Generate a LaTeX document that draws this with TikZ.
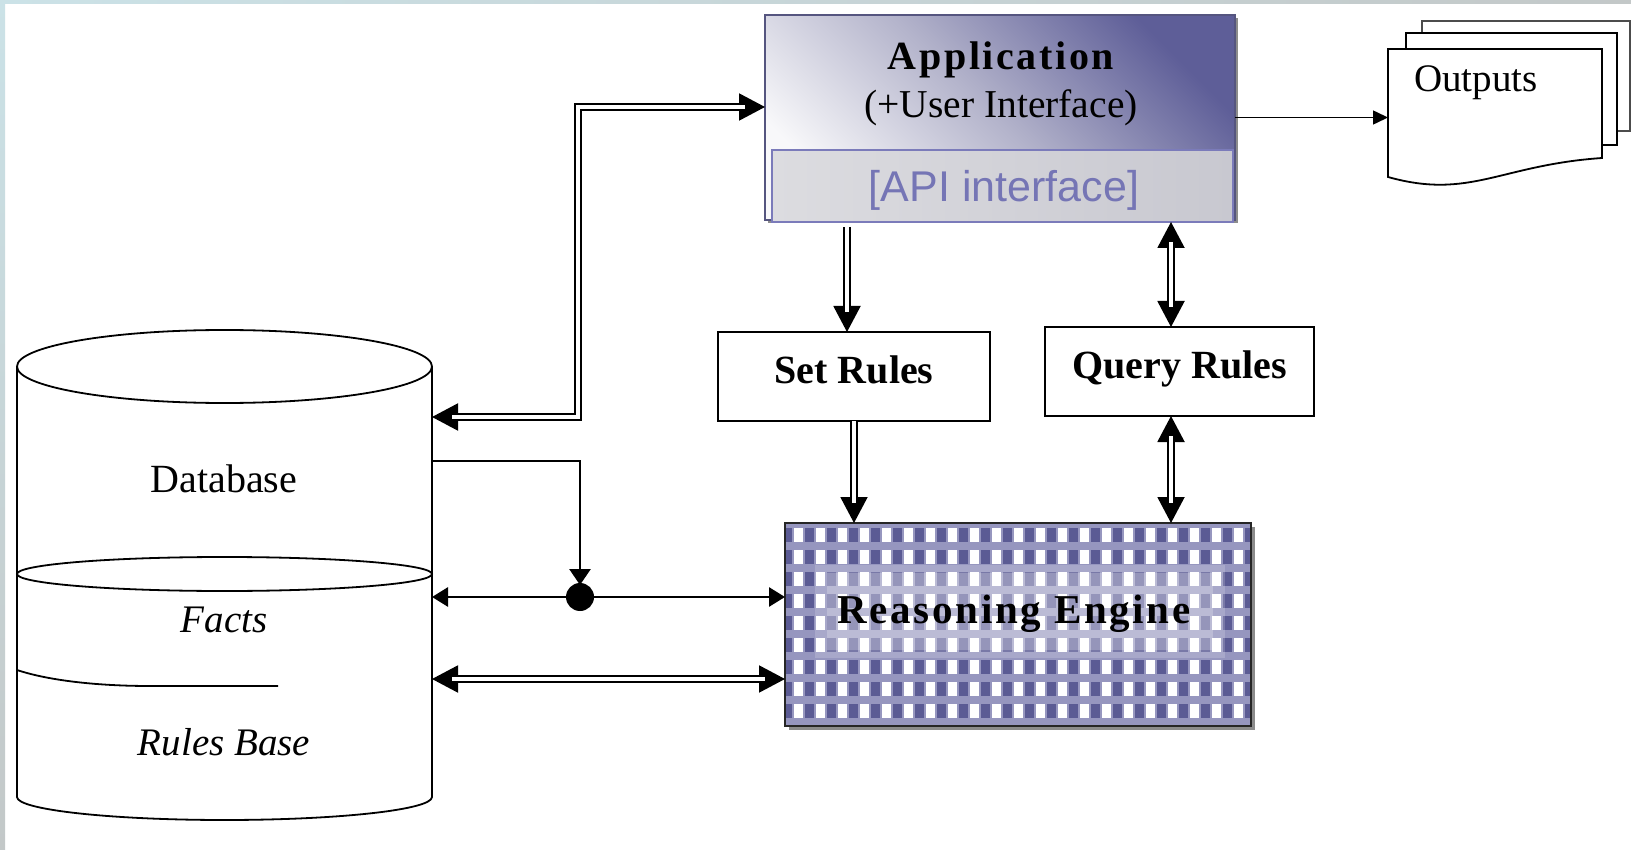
\documentclass[tikz,border=0pt]{standalone}
\usepackage{fontspec}
\setmainfont{Liberation Serif}
\newfontfamily\apifont{Liberation Sans}
\newfontfamily\trackedserif[LetterSpace=6.5]{Liberation Serif}
\usetikzlibrary{arrows.meta,calc}

\definecolor{frameblue}{HTML}{CBE2E7}
\definecolor{framegray}{HTML}{C3C8C8}
\definecolor{apppurple}{HTML}{5E5E98}
\definecolor{appmid}{HTML}{B2B2CA}
\definecolor{appwhite}{HTML}{F8F8FA}
\definecolor{appedge}{HTML}{55557F}
\definecolor{apifillL}{HTML}{DCDCE0}
\definecolor{apifillR}{HTML}{C8C8D0}
\definecolor{apiedge}{HTML}{7B7BBA}
\definecolor{apitext}{HTML}{7575B5}
\definecolor{enginepurple}{HTML}{5B5B94}
\definecolor{enginedots}{HTML}{9696BF}
\definecolor{shadowgray}{HTML}{8C8C8C}

\tikzset{
  lbl/.style={anchor=base, inner sep=0pt},
  rulebox/.style={draw=black, line width=2pt, fill=white, minimum width=#1,
    minimum height=89pt, inner sep=0pt, text height=27pt, text depth=14pt,
    font=\fontsize{40}{44}\selectfont\bfseries},
  dbline/.style={draw=black, line width=1.8pt},
  pageline/.style={draw=black, line width=1.8pt, fill=white},
  dblcore/.style={draw=black, line width=2pt},
  dblshaft/.style={draw=black, line width=2pt, double=white, double distance=3.2pt},
  wire/.style={draw=black, line width=2.8pt},
  thinwire/.style={draw=black, line width=1.5pt},
  HeadL/.tip={Triangle[length=26pt,width=27pt]},
  HeadS/.tip={Triangle[length=16pt,width=19pt]},
  HeadD/.tip={Triangle[length=16pt,width=21pt]},
  HeadT/.tip={Triangle[length=15pt,width=14pt]},
}

\begin{document}
\begin{tikzpicture}[x=1pt, y=-1pt, every node/.style={inner sep=0pt, outer sep=0pt}]
\useasboundingbox (0,0) rectangle (1631,850);
\fill[white] (0,0) rectangle (1631,850);

% window frame strips
\shade[top color=frameblue, bottom color=framegray] (0,0) rectangle (5,850);
\shade[left color=frameblue, right color=framegray] (0,0) rectangle (1631,4);

% ---------- Application box ----------
\fill[shadowgray] (768,18) rectangle (1238,223);
\node[minimum width=470pt, minimum height=205pt, draw=appedge, line width=2pt,
      top color=apppurple, bottom color=appwhite, middle color=appmid,
      shading angle=-45] (app) at (1000,117.5) {};
\node[lbl, font=\trackedserif\bfseries\fontsize{40}{44}\selectfont] (apptitle) at (1001,70) {Application};
\node[lbl, font=\fontsize{39.5}{44}\selectfont] (appsub) at (1001,118) {(+User Interface)};
\node[minimum width=461pt, minimum height=72pt, draw=apiedge, line width=1.5pt,
      left color=apifillL, right color=apifillR] (api) at (1002.5,186) {};
\node[lbl, font=\apifont\fontsize{43}{46}\selectfont, text=apitext] (apilbl) at (1004,202) {[API interface]};

% ---------- Outputs (stack of documents) ----------
\draw[pageline, draw=black!70] (1422,21) rectangle (1630,131);
\draw[pageline] (1406,33) rectangle (1617,145);
\node[minimum width=214pt, minimum height=128pt] (outfront) at (1495,113) {};
\draw[pageline] (1388,49) -- (1602,49) -- (1602,158)
  .. controls (1500,165) and (1470,200) .. (1388,177) -- cycle;
\node[lbl, font=\fontsize{39}{44}\selectfont] (outlbl) at (1476,92) {Outputs};
\draw[thinwire, -HeadT] (app.east) -- (app.east -| outfront.west);

% ---------- Rule boxes ----------
\node[rulebox=272pt] (set) at (854,376.5) {Set Rules};
\node[rulebox=269pt] (query) at (1179.5,371.5) {Query Rules};

% ---------- Reasoning engine ----------
\fill[shadowgray] (789,527) rectangle (1255,730);
\node[minimum width=466pt, minimum height=203pt] (engine) at (1018,624.5) {};
\begin{scope}
  \clip (engine.north west) rectangle (engine.south east);
  \fill[enginedots] (engine.north west) rectangle (engine.south east);
  \foreach \r in {0,...,9} {
    \foreach \c in {-1,...,21} {
      \fill[enginepurple] ({805+22*\c},{528+22*\r}) rectangle +(8.5,14);
      \fill[white] ({794+22*\c},{528+22*\r}) rectangle +(8.5,14);
    }
  }
  \fill[white, opacity=0.18] (815,565) rectangle (1225,658);
  \fill[white, opacity=0.22] (827,573) rectangle (1213,650);
\end{scope}
\draw[black!85, line width=2.2pt] (engine.north west) rectangle (engine.south east);
\node[lbl, font=\trackedserif\bfseries\fontsize{41}{45}\selectfont] (englbl) at (1014,623) {Reasoning Engine};

% ---------- Database cylinder ----------
\fill[white] (17,366.5) -- (17,797) arc[start angle=180, end angle=360, x radius=207.5pt, y radius=23pt] -- (432,366.5) -- cycle;
\draw[dbline] (17,366.5) -- (17,797) arc[start angle=180, end angle=360, x radius=207.5pt, y radius=23pt] -- (432,366.5);
\draw[dbline, fill=white] (224.5,366.5) ellipse[x radius=207.5pt, y radius=36.5pt];
\draw[dbline] (224.5,574) ellipse[x radius=207.5pt, y radius=17pt];
\draw[dbline] (17,670) .. controls (50,681) and (100,686) .. (150,686) -- (278,686);
\node[lbl, font=\fontsize{40}{44}\selectfont] (dblbl) at (224,492) {Database};
\node[lbl, font=\itshape\fontsize{39}{44}\selectfont] (factslbl) at (224,632) {Facts};
\node[lbl, font=\itshape\fontsize{39}{44}\selectfont] (ruleslbl) at (224,755) {Rules Base};

% ports on the database side
\coordinate (dbApp) at (432,417);
\coordinate (dbData) at (432,461);
\coordinate (dbFacts) at (432,597);
\coordinate (dbRules) at (432,679);
\coordinate (bend) at (578,107);

% ---------- Connectors ----------
% database <-> application
\draw[dblcore, HeadL-HeadL] (dbApp) -| (bend) -- (app.west |- bend);
\draw[dblshaft, shorten <=20pt, shorten >=20pt] (dbApp) -| (bend) -- (app.west |- bend);

% application -> set rules
\coordinate (setTop) at ([xshift=-7pt]set.north);
\draw[dblcore, -HeadL, shorten <=5pt] (api.south -| setTop) -- (setTop);
\draw[dblshaft, shorten <=5pt, shorten >=20pt] (api.south -| setTop) -- (setTop);

% application <-> query rules
\coordinate (qTop) at ([xshift=-8.5pt]query.north);
\draw[dblcore, HeadL-HeadL] (api.south -| qTop) -- (qTop);
\draw[dblshaft, shorten <=20pt, shorten >=20pt] (api.south -| qTop) -- (qTop);

% set rules -> engine
\draw[dblcore, -HeadL] (set.south) -- (engine.north -| set.south);
\draw[dblshaft, shorten >=20pt] (set.south) -- (engine.north -| set.south);

% query rules <-> engine
\coordinate (qBot) at ([xshift=-8.5pt]query.south);
\draw[dblcore, HeadL-HeadL] (qBot) -- (engine.north -| qBot);
\draw[dblshaft, shorten <=20pt, shorten >=20pt] (qBot) -- (engine.north -| qBot);

% facts <-> engine through the junction
\coordinate (junctionTop) at (580,585);
\draw[wire, HeadS-HeadS] (dbFacts) -- (engine.west |- dbFacts);
\draw[wire, -HeadD] (dbData) -| (junctionTop);
\node[circle, fill=black, minimum size=28pt] (junction) at (580,597) {};

% rules base <-> engine
\draw[dblcore, HeadL-HeadL] (dbRules) -- (engine.west |- dbRules);
\draw[dblshaft, shorten <=20pt, shorten >=20pt] (dbRules) -- (engine.west |- dbRules);
\end{tikzpicture}
\end{document}
